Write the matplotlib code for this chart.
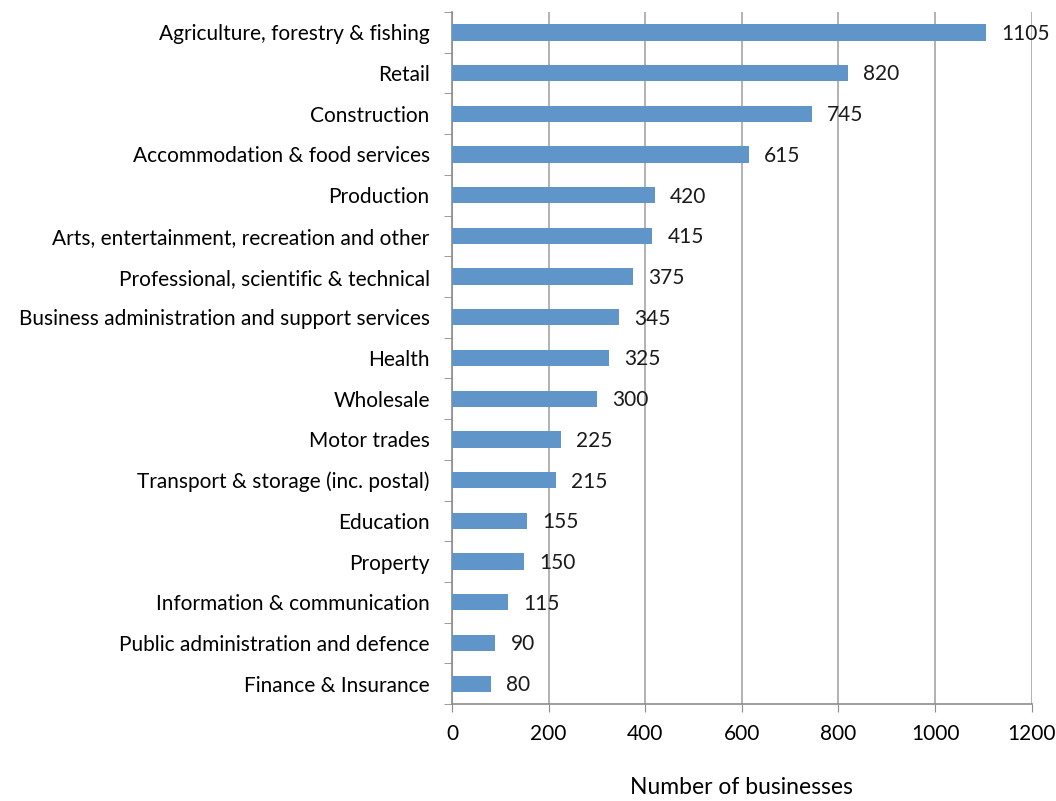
import matplotlib.pyplot as plt

categories = [
    "Agriculture, forestry & fishing",
    "Retail",
    "Construction",
    "Accommodation & food services",
    "Production",
    "Arts, entertainment, recreation and other",
    "Professional, scientific & technical",
    "Business administration and support services",
    "Health",
    "Wholesale",
    "Motor trades",
    "Transport & storage (inc. postal)",
    "Education",
    "Property",
    "Information & communication",
    "Public administration and defence",
    "Finance & Insurance",
]
businesses = [1105, 820, 745, 615, 420, 415, 375, 345, 325, 300, 225, 215, 155, 150, 115, 90, 80]
x_ticks = [0, 200, 400, 600, 800, 1000, 1200]

plt.rcParams['font.family'] = ['Lato', 'DejaVu Sans']

fig = plt.figure(figsize=(10.56, 8.01), dpi=100)
ax = fig.add_axes([0.428, 0.121, 0.549, 0.864])

n = len(categories)
ypos = list(range(n))[::-1]
ax.barh(ypos, businesses, height=0.4, color='#5f95c9', zorder=3)

for y, v in zip(ypos, businesses):
    ax.annotate(str(v), (v, y), xytext=(11, -1), textcoords='offset points',
                va='center', ha='left', fontsize=15, color='#1a1a1a')

ax.set_xlim(0, 1200)
ax.set_ylim(-0.5, n - 0.5)
ax.set_xticks(x_ticks)
ax.set_xticklabels([str(t) for t in x_ticks], fontsize=15)
ax.set_yticks(ypos)
ax.set_yticklabels(categories, fontsize=15)
ax.set_yticks([i - 0.5 for i in range(n + 1)], minor=True)
ax.tick_params(axis='y', which='major', length=0, pad=16)
ax.tick_params(axis='y', which='minor', length=6, color='#8c8c8c', direction='out')
ax.tick_params(axis='x', length=6, color='#8c8c8c', direction='out', pad=8)

ax.grid(axis='x', color='#a6a6a6', linewidth=1.2, zorder=0)
for s in ['top', 'right']:
    ax.spines[s].set_visible(False)
for s in ['left', 'bottom']:
    ax.spines[s].set_color('#8c8c8c')
    ax.spines[s].set_linewidth(1.2)

ax.set_xlabel("Number of businesses", fontsize=16.5, labelpad=24)

fig.savefig("out.png", dpi=100)
